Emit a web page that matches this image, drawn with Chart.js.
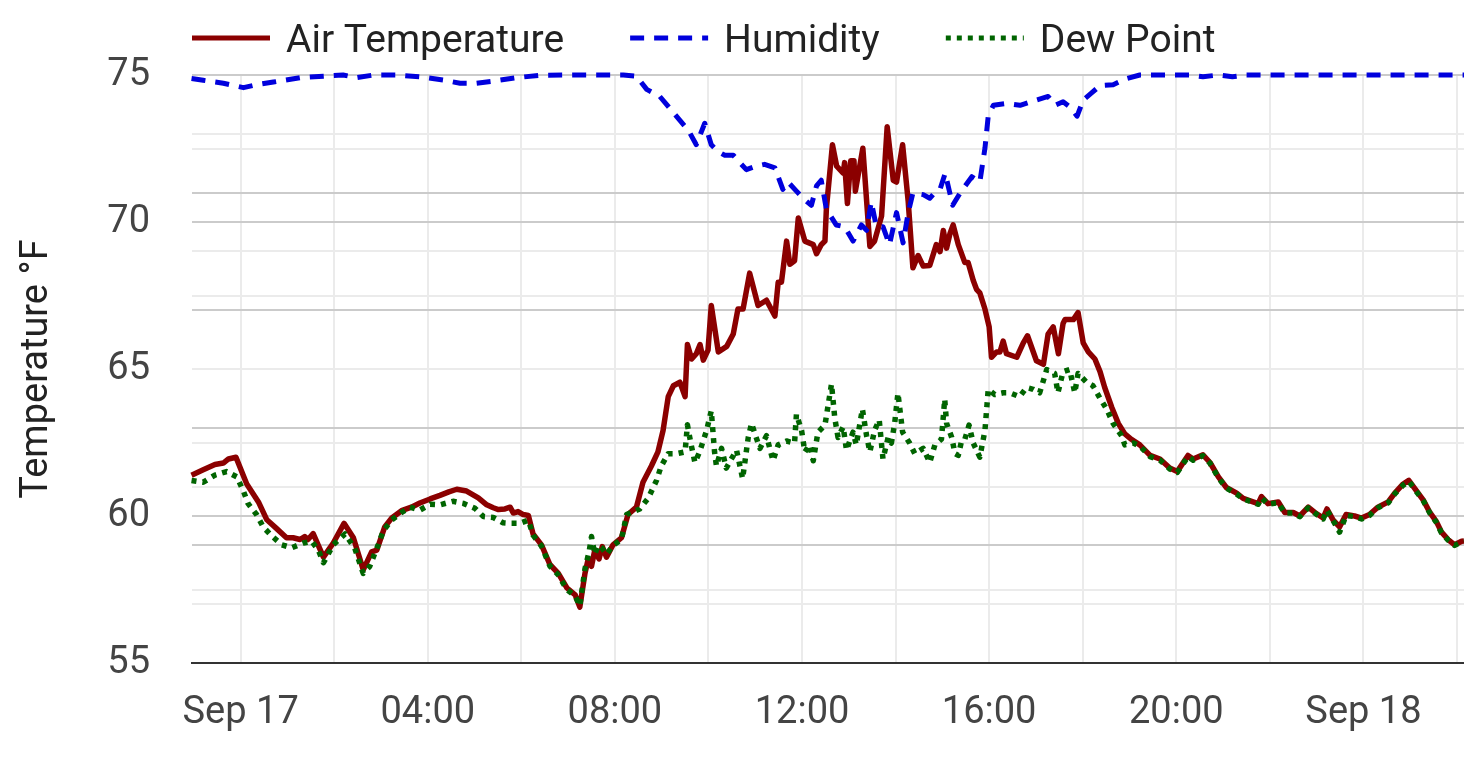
<!DOCTYPE html>
<html>
<head>
<meta charset="utf-8">
<title>Temperature, humidity and dew point</title>
<script src="https://cdn.jsdelivr.net/npm/chart.js@4/dist/chart.umd.min.js"></script>
<style>
  html, body { margin: 0; padding: 0; background: #fff; }
  #wrap { width: 1464px; height: 757px; position: relative; }
</style>
</head>
<body>
<div id="wrap"><canvas id="graphique"></canvas></div>
<script>
// hours since Sep 17 00:00
const tempHours = [
    -1.05, -0.80, -0.55, -0.37, -0.26, -0.10, 0.13, 0.38, 0.56, 0.77, 0.98, 1.12, 1.27, 1.37, 1.44, 1.55,
    1.77, 1.98, 2.21, 2.41, 2.62, 2.80, 2.91, 3.08, 3.23, 3.44, 3.65, 3.83, 4.05, 4.26, 4.45, 4.62,
    4.83, 5.08, 5.26, 5.40, 5.51, 5.65, 5.76, 5.83, 5.93, 6.04, 6.15, 6.25, 6.43, 6.61, 6.79, 6.97,
    7.15, 7.25, 7.36, 7.43, 7.50, 7.57, 7.66, 7.73, 7.82, 7.96, 8.14, 8.28, 8.46, 8.60, 8.78, 8.92,
    9.03, 9.14, 9.25, 9.39, 9.50, 9.55, 9.64, 9.74, 9.82, 9.89, 9.99, 10.06, 10.21, 10.39, 10.53, 10.63,
    10.74, 10.88, 11.06, 11.24, 11.42, 11.49, 11.56, 11.67, 11.74, 11.84, 11.92, 12.06, 12.24, 12.31, 12.41, 12.49,
    12.52, 12.65, 12.74, 12.88, 12.91, 12.97, 13.04, 13.11, 13.14, 13.30, 13.45, 13.55, 13.70, 13.82, 13.95, 14.02,
    14.15, 14.27, 14.37, 14.48, 14.59, 14.73, 14.87, 14.95, 15.02, 15.09, 15.16, 15.23, 15.34, 15.48, 15.55, 15.66,
    15.73, 15.80, 15.91, 16.00, 16.05, 16.16, 16.23, 16.30, 16.37, 16.59, 16.73, 16.82, 17.01, 17.16, 17.26, 17.37,
    17.48, 17.58, 17.62, 17.80, 17.90, 18.01, 18.12, 18.26, 18.37, 18.47, 18.62, 18.76, 18.90, 19.04, 19.22, 19.44,
    19.65, 19.86, 20.02, 20.25, 20.36, 20.57, 20.72, 20.90, 21.07, 21.29, 21.43, 21.61, 21.75, 21.82, 21.96, 22.18,
    22.32, 22.50, 22.64, 22.82, 22.96, 23.14, 23.22, 23.35, 23.49, 23.63, 23.81, 23.96, 24.13, 24.31, 24.53, 24.67,
    24.85, 24.97, 25.17, 25.28, 25.42, 25.56, 25.67, 25.81, 25.95, 26.10, 26.15
];
const tempValues = [
    61.39, 61.57, 61.75, 61.80, 61.94, 62.00, 61.09, 60.48, 59.87, 59.57, 59.26, 59.26, 59.20, 59.30, 59.20, 59.40,
    58.60, 59.08, 59.75, 59.26, 58.17, 58.78, 58.84, 59.63, 59.93, 60.18, 60.30, 60.44, 60.58, 60.70, 60.82, 60.91,
    60.85, 60.62, 60.38, 60.28, 60.22, 60.24, 60.30, 60.10, 60.15, 60.05, 60.02, 59.39, 59.02, 58.35, 58.05, 57.56,
    57.32, 56.90, 58.05, 58.54, 58.29, 58.84, 58.54, 58.96, 58.60, 59.02, 59.26, 60.05, 60.30, 61.15, 61.70, 62.18,
    62.91, 64.06, 64.43, 64.55, 64.06, 65.83, 65.34, 65.52, 65.83, 65.30, 65.64, 67.16, 65.58, 65.77, 66.19, 67.04,
    67.04, 68.26, 67.16, 67.34, 66.80, 67.95, 67.95, 69.35, 68.56, 68.68, 70.14, 69.35, 69.23, 68.92, 69.23, 69.35,
    70.44, 72.63, 71.90, 71.66, 72.02, 70.63, 72.08, 72.08, 71.05, 72.51, 69.17, 69.35, 70.20, 73.24, 71.42, 71.36,
    72.63, 70.69, 68.44, 68.86, 68.50, 68.52, 69.23, 68.99, 69.71, 69.11, 69.59, 69.90, 69.23, 68.62, 68.62, 68.01,
    67.71, 67.59, 67.04, 66.43, 65.40, 65.58, 65.58, 65.95, 65.52, 65.40, 65.89, 66.13, 65.28, 65.16, 66.19, 66.43,
    65.52, 66.55, 66.68, 66.68, 66.92, 65.89, 65.58, 65.34, 64.91, 64.37, 63.70, 63.15, 62.79, 62.61, 62.42, 62.06,
    61.94, 61.63, 61.51, 62.06, 61.94, 62.08, 61.82, 61.33, 60.97, 60.78, 60.60, 60.50, 60.42, 60.66, 60.42, 60.48,
    60.12, 60.12, 60.00, 60.30, 60.12, 59.93, 60.24, 59.87, 59.63, 60.05, 60.00, 59.93, 60.05, 60.30, 60.48, 60.78,
    61.09, 61.21, 60.78, 60.54, 60.12, 59.81, 59.45, 59.20, 59.02, 59.14, 59.15
];

// humidity in %, plotted on a hidden 0-100 axis
const humHours = [
    -1.05, -0.80, -0.37, 0.06, 0.34, 0.70, 1.27, 1.77, 2.19, 2.48, 2.84, 3.34, 3.83, 4.33, 4.69, 5.04,
    5.40, 5.90, 6.40, 7.11, 8.18, 8.46, 8.68, 8.96, 9.25, 9.57, 9.74, 9.92, 10.06, 10.21, 10.35, 10.53,
    10.67, 10.81, 11.02, 11.20, 11.42, 11.59, 11.70, 11.88, 12.06, 12.20, 12.31, 12.41, 12.52, 12.73, 12.91, 13.09,
    13.27, 13.38, 13.48, 13.59, 13.73, 13.87, 14.02, 14.16, 14.27, 14.37, 14.59, 14.73, 14.87, 14.95, 15.06, 15.22,
    15.38, 15.63, 15.80, 15.91, 15.98, 16.09, 16.37, 16.66, 17.01, 17.26, 17.41, 17.58, 17.73, 17.88, 18.01, 18.19,
    18.37, 18.65, 18.94, 19.22, 20.29, 20.57, 20.90, 21.20, 21.50, 26.15
];
const humValues = [
    99.4, 99.1, 98.6, 97.85, 98.35, 98.8, 99.55, 99.8, 100, 99.55, 100, 100, 99.7, 99.15, 98.6, 98.6,
    98.95, 99.55, 99.95, 100, 100, 99.8, 97.55, 96.35, 93.6, 90.6, 88.15, 91.8, 88.15, 86.95, 86.35, 86.35,
    85.1, 83.9, 84.5, 84.8, 84.2, 80.55, 81.8, 80.25, 78.75, 77.85, 81.15, 82.1, 77.2, 74.5, 74.2, 71.75,
    74.5, 73.6, 78.45, 74.2, 74.2, 71.15, 76.6, 71.45, 76.6, 79.95, 79.65, 79.05, 80.25, 80.55, 83.3, 77.85,
    79.95, 82.7, 81.8, 87.55, 93.0, 94.85, 95.15, 94.85, 95.75, 96.35, 94.85, 95.45, 94.55, 93.0, 95.75, 96.95,
    98.2, 98.35, 99.4, 100, 100, 99.7, 100, 99.7, 100, 100
];

const dewHours = [
    -1.05, -0.80, -0.55, -0.30, -0.08, 0.06, 0.16, 0.34, 0.48, 0.66, 0.88, 1.09, 1.34, 1.52, 1.66, 1.77,
    1.98, 2.23, 2.44, 2.62, 2.76, 2.94, 3.05, 3.23, 3.44, 3.62, 3.83, 4.05, 4.26, 4.54, 4.76, 5.01,
    5.19, 5.40, 5.61, 5.79, 5.97, 6.15, 6.25, 6.43, 6.61, 6.79, 6.97, 7.15, 7.25, 7.36, 7.45, 7.50,
    7.57, 7.64, 7.73, 7.82, 7.96, 8.14, 8.25, 8.53, 8.71, 8.89, 8.99, 9.14, 9.32, 9.50, 9.55, 9.62,
    9.71, 9.81, 9.96, 10.06, 10.13, 10.17, 10.28, 10.38, 10.49, 10.60, 10.73, 10.85, 10.92, 11.02, 11.10, 11.24,
    11.38, 11.49, 11.67, 11.84, 11.88, 11.99, 12.06, 12.16, 12.24, 12.34, 12.49, 12.63, 12.70, 12.77, 12.88, 12.95,
    13.09, 13.16, 13.29, 13.38, 13.45, 13.55, 13.65, 13.73, 13.84, 13.91, 13.98, 14.05, 14.15, 14.30, 14.41, 14.59,
    14.73, 14.84, 14.98, 15.05, 15.09, 15.20, 15.27, 15.34, 15.41, 15.48, 15.57, 15.66, 15.80, 15.91, 15.98, 16.12,
    16.30, 16.44, 16.65, 16.80, 16.94, 17.08, 17.23, 17.40, 17.47, 17.58, 17.72, 17.83, 17.90, 18.08, 18.22, 18.37,
    18.51, 18.65, 18.83, 18.90, 19.08, 19.22, 19.44, 19.65, 19.86, 20.02, 20.25, 20.36, 20.57, 20.72, 20.90, 21.07,
    21.29, 21.43, 21.61, 21.75, 21.82, 21.96, 22.18, 22.32, 22.50, 22.64, 22.82, 22.96, 23.14, 23.22, 23.35, 23.49,
    23.63, 23.81, 23.96, 24.13, 24.31, 24.53, 24.67, 24.85, 24.97, 25.17, 25.28, 25.42, 25.56, 25.67, 25.81, 25.95,
    26.10, 26.15
];
const dewValues = [
    61.21, 61.15, 61.39, 61.51, 61.33, 60.84, 60.42, 60.05, 59.63, 59.33, 59.02, 58.92, 59.08, 59.14, 58.84, 58.41,
    59.02, 59.39, 58.90, 58.05, 58.29, 59.02, 59.50, 59.87, 60.12, 60.30, 60.20, 60.40, 60.38, 60.50, 60.43, 60.26,
    59.98, 59.95, 59.77, 59.75, 59.75, 59.86, 59.35, 58.98, 58.30, 58.00, 57.50, 57.28, 56.95, 58.20, 58.80, 59.30,
    58.70, 59.00, 58.90, 58.70, 59.00, 59.20, 60.05, 60.24, 60.60, 61.21, 61.70, 62.12, 62.12, 62.18, 63.10, 62.50,
    61.82, 62.18, 62.91, 63.58, 62.18, 61.70, 62.30, 61.63, 61.94, 62.24, 61.27, 62.67, 63.15, 62.67, 62.30, 62.73,
    61.88, 62.42, 62.55, 62.48, 63.46, 62.91, 62.18, 62.42, 61.88, 62.85, 63.09, 64.49, 63.33, 62.67, 63.03, 62.24,
    62.85, 62.42, 63.64, 62.73, 62.18, 62.91, 63.27, 61.94, 62.67, 62.48, 63.15, 64.18, 62.85, 62.48, 62.12, 62.30,
    61.82, 62.42, 62.61, 63.97, 63.15, 62.67, 62.12, 62.06, 62.55, 62.61, 63.09, 62.48, 62.00, 62.91, 64.31, 64.13,
    64.19, 64.19, 64.06, 64.37, 64.31, 64.19, 64.98, 64.85, 64.19, 64.91, 64.98, 64.19, 64.85, 64.55, 64.43, 64.00,
    63.64, 63.15, 62.73, 62.42, 62.48, 62.38, 62.02, 61.90, 61.60, 61.48, 62.02, 61.90, 62.05, 61.80, 61.30, 60.95,
    60.75, 60.58, 60.48, 60.40, 60.62, 60.40, 60.45, 60.10, 60.10, 59.98, 60.28, 60.10, 59.90, 60.20, 59.85, 59.45,
    60.02, 59.98, 59.90, 60.02, 60.28, 60.45, 60.75, 61.05, 61.18, 60.75, 60.52, 60.10, 59.78, 59.42, 59.18, 59.00,
    59.12, 59.13
];

// axis ticks
const gridHours = [0, 2, 4, 6, 8, 10, 12, 14, 16, 18, 20, 22, 24, 26];
const labelHours = [0, 4, 8, 12, 16, 20, 24];
const labelTexts = ['Sep 17', '04:00', '08:00', '12:00', '16:00', '20:00', 'Sep 18'];

const FONT = 'Roboto';
const GRID_DARK = '#cbcbcb';
const GRID_LIGHT = '#ebebeb';

function toPoints(hours, values) {
    return hours.map((h, i) => ({x: h, y: values[i]}));
}

// legende dessinee a la main, alignee sur la zone du graphique
const topLegend = {
    id: 'topLegend',
    afterDraw(chart) {
        const ctx = chart.ctx;
        let x = chart.chartArea.left;
        ctx.save();
        ctx.font = '39px ' + FONT;
        ctx.textBaseline = 'alphabetic';
        chart.data.datasets.forEach(ds => {
            ctx.strokeStyle = ds.borderColor;
            ctx.lineWidth = 5;
            ctx.setLineDash(ds.borderDash || []);
            ctx.beginPath();
            ctx.moveTo(x, 38);
            ctx.lineTo(x + 78, 38);
            ctx.stroke();
            ctx.setLineDash([]);
            ctx.fillStyle = '#222';
            ctx.fillText(ds.label, x + 94, 52);
            x += 94 + ctx.measureText(ds.label).width + 66;
        });
        ctx.restore();
    }
};

const graph = document.getElementById('graphique');

new Chart(graph, {
    type: 'line',
    data: {
        datasets: [{
            label: 'Air Temperature',
            data: toPoints(tempHours, tempValues),
            borderColor: '#8b0000',
            borderWidth: 5.5,
            yAxisID: 'y',
            order: 3
        }, {
            label: 'Humidity',
            data: toPoints(humHours, humValues),
            borderColor: '#0000dd',
            borderWidth: 5,
            borderDash: [14, 10],
            yAxisID: 'y1',
            order: 2
        }, {
            label: 'Dew Point',
            data: toPoints(dewHours, dewValues),
            borderColor: '#006400',
            borderWidth: 5.5,
            borderDash: [5, 6],
            yAxisID: 'y',
            order: 1
        }]
    },
    options: {
        responsive: true,
        maintainAspectRatio: false,
        animation: false,
        layout: {padding: {top: 75, left: 0, right: 0, bottom: 0}},
        elements: {
            point: {radius: 0, hoverRadius: 0},
            line: {tension: 0, borderJoinStyle: 'round', fill: false}
        },
        datasets: {line: {clip: 8}},
        plugins: {
            legend: {display: false},
            tooltip: {enabled: false}
        },
        scales: {
            x: {
                type: 'linear',
                min: -1.04,
                max: 26.15,
                afterBuildTicks: scale => {
                    scale.ticks = gridHours.map(v => ({value: v}));
                },
                afterFit: scale => {
                    scale.height = 94;
                    scale.paddingLeft = 0;
                    scale.paddingRight = 0;
                },
                ticks: {
                    autoSkip: false,
                    maxRotation: 0,
                    padding: 28,
                    color: '#444',
                    font: {family: FONT, size: 38},
                    callback: value => {
                        const i = labelHours.indexOf(value);
                        return i >= 0 ? labelTexts[i] : '';
                    }
                },
                grid: {color: GRID_LIGHT, lineWidth: 2, drawTicks: false},
                border: {display: true, color: '#333', width: 2}
            },
            y: {
                position: 'left',
                min: 55,
                max: 75,
                afterFit: scale => { scale.width = 192; },
                ticks: {
                    stepSize: 2.5,
                    padding: 42,
                    color: '#444',
                    font: {family: FONT, size: 38},
                    callback: value => (value % 5 === 0 ? value : '')
                },
                grid: {
                    lineWidth: 2,
                    drawTicks: false,
                    color: ctx => {
                        const v = ctx.tick.value;
                        if (v === 55) return 'rgba(0,0,0,0)';
                        if (v === 60 || v === 70 || v === 75) return GRID_DARK;
                        return GRID_LIGHT;
                    }
                },
                border: {display: false},
                title: {
                    display: true,
                    text: 'Temperature °F',
                    color: '#222',
                    font: {family: FONT, size: 38},
                    padding: {top: 15, bottom: 0}
                }
            },
            y1: {
                position: 'right',
                min: 0,
                max: 100,
                afterFit: scale => { scale.width = 0; },
                ticks: {display: false, stepSize: 10},
                grid: {
                    lineWidth: 2,
                    drawTicks: false,
                    color: ctx => {
                        const v = ctx.tick.value;
                        if (v === 0) return 'rgba(0,0,0,0)';
                        return v % 20 === 0 ? GRID_DARK : GRID_LIGHT;
                    }
                },
                border: {display: false}
            }
        }
    },
    plugins: [topLegend]
});
</script>
</body>
</html>
